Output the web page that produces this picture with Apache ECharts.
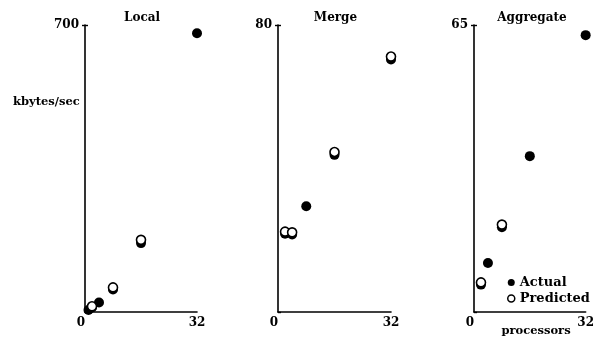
<!DOCTYPE html>
<html><head><meta charset="utf-8">
<script src="https://cdn.jsdelivr.net/npm/echarts@6/dist/echarts.min.js"></script>
<style>html,body{margin:0;padding:0;background:#fff}#c{width:597px;height:341px}</style>
</head><body><div id="c"></div>
<script>
const panelTitles = ['Local', 'Merge', 'Aggregate'];
const yMax = [700, 80, 65];
const xMax = 32;
// Local panel
const localX = [1, 2, 4, 8, 16, 32];
const localActual = [5, 11, 23, 55, 168, 680];
const localPredicted = [null, 14, null, 60, 176, null];
// Merge panel
const mergeX = [2, 4, 8, 16, 32];
const mergeActual = [21.8, 21.6, 29.5, 43.8, 70.4];
const mergePredicted = [22.4, 22.2, null, 44.6, 71.2];
// Aggregate panel
const aggX = [2, 4, 8, 16, 32];
const aggActual = [6.2, 11.1, 19.2, 35.3, 62.7];
const aggPredicted = [6.7, null, 19.8, null, null];

const FONT = 'DejaVu Serif';
const pair = (xs, ys) => xs.map((x, i) => ys[i] == null ? null : [x, ys[i]]).filter(p => p);

const grids = [
  {left: 85, top: 25, width: 112, height: 287},
  {left: 278, top: 25, width: 113, height: 287},
  {left: 474, top: 25, width: 114, height: 287}
];
const actuals = [pair(localX, localActual), pair(mergeX, mergeActual), pair(aggX, aggActual)];
const preds = [pair(localX, localPredicted), pair(mergeX, mergePredicted), pair(aggX, aggPredicted)];

const lab = {fontFamily: FONT, fontWeight: 'bold', fontSize: 12, color: '#000'};
const option = {
  animation: false,
  backgroundColor: '#fff',
  title: [
    ...panelTitles.map((t, i) => ({
      text: t, left: grids[i].left + grids[i].width / 2 - 4, top: 7, textAlign: 'center',
      textStyle: {fontFamily: FONT, fontWeight: 'bold', fontSize: 12, color: '#000'}
    })),
    {text: 'kbytes/sec', left: 8, top: 91, textStyle: {fontFamily: FONT, fontWeight: 'bold', fontSize: 11.5, color: '#000'}},
    {text: 'processors', left: 531, top: 320, textAlign: 'center', textStyle: {fontFamily: FONT, fontWeight: 'bold', fontSize: 11.5, color: '#000'}}
  ],
  legend: {
    orient: 'vertical', left: 502, top: 271, itemGap: 3, itemWidth: 7, itemHeight: 7,
    data: [
      {name: 'Actual', icon: 'circle', itemStyle: {color: '#000', borderWidth: 0}},
      {name: 'Predicted', icon: 'circle', itemStyle: {color: '#fff', borderColor: '#000', borderWidth: 1.5}}
    ],
    textStyle: {fontFamily: FONT, fontWeight: 'bold', fontSize: 13, color: '#000', padding: [0, 0, 0, 0]}
  },
  grid: grids,
  xAxis: grids.map((g, i) => ({
    type: 'value', gridIndex: i, min: 0, max: xMax, interval: xMax,
    axisLine: {lineStyle: {color: '#000', width: 1.6}},
    axisTick: {show: false}, splitLine: {show: false},
    axisLabel: Object.assign({margin: 5, formatter: v => v === 0 ? '{z|0}' : String(v),
      rich: {z: Object.assign({}, lab, {padding: [0, 8, 0, 0]})}}, lab),
    alignMinLabel: 'right'
  })),
  yAxis: [
    ...grids.map((g, i) => ({
      type: 'value', gridIndex: i, min: 0, max: yMax[i], interval: yMax[i],
      axisLine: {show: true, lineStyle: {color: '#000', width: 1.6}},
      axisTick: {show: true, length: 3, lineStyle: {color: '#000', width: 1.4}},
      splitLine: {show: false},
      axisLabel: Object.assign({margin: 6, showMinLabel: false}, lab)
    })),
    ...grids.map((g, i) => ({
      type: 'value', gridIndex: i, min: 0, max: yMax[i], interval: yMax[i], position: 'left',
      axisLine: {show: false}, axisLabel: {show: false}, splitLine: {show: false},
      axisTick: {show: true, inside: true, length: 3, lineStyle: {color: '#000', width: 1.4}}
    }))
  ],
  series: [
    ...actuals.map((d, i) => ({
      name: 'Actual', type: 'scatter', xAxisIndex: i, yAxisIndex: i, data: d, symbolSize: 10, z: 2,
      itemStyle: {color: '#000', opacity: 1}
    })),
    ...preds.map((d, i) => ({
      name: 'Predicted', type: 'scatter', xAxisIndex: i, yAxisIndex: i, data: d, symbolSize: 9, z: 3,
      itemStyle: {color: '#fff', borderColor: '#000', borderWidth: 1.6, opacity: 1}
    }))
  ]
};
const chart = echarts.init(document.getElementById('c'), null, {renderer: 'canvas'});
chart.setOption(option);
</script>
</body></html>
